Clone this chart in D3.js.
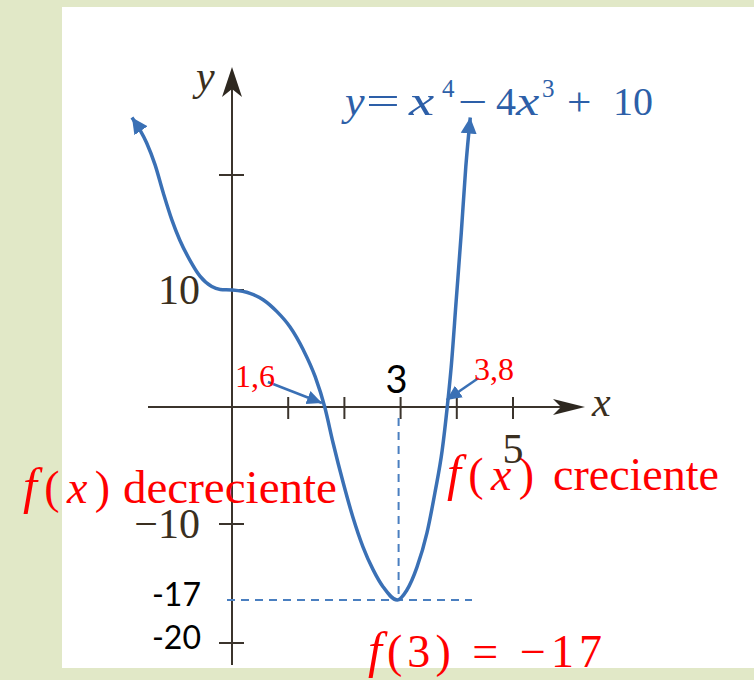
<html>
    <head>
        <title>f(x) = x^4 - 4x^3 + 10</title>
        <script type="text/javascript" src="https://cdn.jsdelivr.net/npm/d3@7"></script>
        <style>
            body{
                margin: 0;
                background: #e1e8c7;
            }
            .axis-line{
                stroke: #3b342c;
                stroke-width: 2px;
                fill: none;
            }
            .book{
                font-family: "Liberation Serif", serif;
                fill: #3a2f20;
            }
            .sans{
                font-family: Lato, "Open Sans", sans-serif;
                fill: black;
            }
            .red{
                font-family: "Liberation Serif", serif;
                fill: #ff0000;
            }
            .eq{
                font-family: "Liberation Serif", serif;
                fill: #2d5fa8;
            }
            #curve{
                stroke: #3a70b5;
                stroke-width: 3.5px;
                fill: none;
            }
            .guide{
                stroke: #4a7fc0;
                stroke-width: 2px;
                stroke-dasharray: 8 6;
                fill: none;
            }
        </style>
    </head>
    <body>
        <script type="text/javascript">
            // data
            let curveX = [-1.78, -1.52, -1.37, -1.22, -1.07, -0.93, -0.75, -0.57, -0.36, -0.21, 0,
                          0.32, 0.56, 0.80, 1.03, 1.27, 1.48, 1.65,
                          1.80, 1.98, 2.15, 2.33, 2.51, 2.69, 2.94, 3.11, 3.29, 3.47, 3.61, 3.74, 3.83,
                          3.90, 3.99, 4.08, 4.16, 4.24]
            let curveY = [25.0, 22.8, 20.9, 18.4, 16.1, 14.35, 12.6, 11.2, 10.3, 10.05, 10,
                          9.72, 9.15, 8.15, 6.86, 4.87, 2.59, 0,
                          -3.1, -6.5, -9.4, -12.1, -14.2, -15.8, -17, -16.1, -14.0, -10.8, -7.35, -3.7, 0,
                          3.4, 9.15, 15.0, 20.7, 25.0]
            let xTicks = [1, 2, 3, 4, 5]
            let yTicks = [20, 10, -10, -20]
            let bookYLabels = [10, -10]
            let bookYText = ["10", "\u221210"]
            let sansYLabels = [-17, -20]
            let sansYText = ["-17", "-20"]
            let roots = [1.6, 3.8]
            let rootText = ["1,6", "3,8"]
            let minX = 3
            let minY = -17

            let w = 754
            let h = 680
            let svg = d3.select("body")
                        .append("svg")
                        .attr("width", w)
                        .attr("height", h)
                        .style("display", "block")

            // white panel
            svg.append("rect")
                .attr("x", 62).attr("y", 7)
                .attr("width", w - 62).attr("height", 661)
                .attr("fill", "white")

            let xScale = d3.scaleLinear()
                            .domain([0, 5])
                            .range([232, 513])
            let yScale = d3.scaleLinear()
                            .domain([-20, -17, -10, 0, 10, 20])
                            .range([643, 600, 524, 407, 290, 175])

            let defs = svg.append("defs")
            function marker(id, len, half, color){
                defs.append("marker")
                    .attr("id", id)
                    .attr("markerUnits", "userSpaceOnUse")
                    .attr("markerWidth", len + 2)
                    .attr("markerHeight", half * 2 + 2)
                    .attr("viewBox", `0 ${-half - 1} ${len + 2} ${half * 2 + 2}`)
                    .attr("refX", len)
                    .attr("refY", 0)
                    .attr("orient", "auto-start-reverse")
                    .append("path")
                    .attr("d", `M0,${-half}L${len},0L0,${half}Z`)
                    .attr("fill", color)
            }
            marker("headCurve", 16, 8, "#3a70b5")
            marker("headCall", 15, 7, "#3a70b5")

            // axes
            let x0 = xScale(0)
            let y0 = yScale(0)
            let xLeft = 148, xRight = 585
            let yTop = 67, yBottom = 665
            svg.append("line").attr("class", "axis-line")
                .attr("x1", xLeft).attr("x2", xRight - 20)
                .attr("y1", y0).attr("y2", y0)
            svg.append("line").attr("class", "axis-line")
                .attr("x1", x0).attr("x2", x0)
                .attr("y1", yTop + 20).attr("y2", yBottom)
            // dart arrow heads
            svg.append("path")
                .attr("d", `M${xRight},${y0}L${xRight - 32},${y0 - 8}L${xRight - 24},${y0}L${xRight - 32},${y0 + 8}Z`)
                .attr("fill", "#2e2820")
            svg.append("path")
                .attr("d", `M${x0},${yTop}L${x0 - 10},${yTop + 30}L${x0},${yTop + 22}L${x0 + 10},${yTop + 30}Z`)
                .attr("fill", "#2e2820")

            // ticks
            svg.selectAll(".xtick")
                .data(xTicks)
                .enter()
                .append("line")
                .attr("class", "axis-line xtick")
                .attr("x1", d => xScale(d)).attr("x2", d => xScale(d))
                .attr("y1", y0 - 10).attr("y2", y0 + 12)
            svg.selectAll(".ytick")
                .data(yTicks)
                .enter()
                .append("line")
                .attr("class", "axis-line ytick")
                .attr("x1", x0 - 13).attr("x2", x0 + 12)
                .attr("y1", d => yScale(d)).attr("y2", d => yScale(d))

            // axis labels
            svg.append("text").attr("class", "book")
                .attr("x", 196).attr("y", 90)
                .attr("font-size", 42).attr("font-style", "italic")
                .text("y")
            svg.append("text").attr("class", "book")
                .attr("x", 592).attr("y", 416)
                .attr("font-size", 42).attr("font-style", "italic")
                .text("x")
            svg.append("text").attr("class", "book")
                .attr("x", xScale(5)).attr("y", y0 + 56)
                .attr("font-size", 42).attr("text-anchor", "middle")
                .text("5")
            svg.selectAll(".ylab")
                .data(bookYLabels)
                .enter()
                .append("text")
                .attr("class", "book ylab")
                .attr("x", 200)
                .attr("y", d => yScale(d) + 14)
                .attr("font-size", 42)
                .attr("text-anchor", "end")
                .text((d, i) => bookYText[i])
            svg.selectAll(".slab")
                .data(sansYLabels)
                .enter()
                .append("text")
                .attr("class", "sans slab")
                .attr("x", 201)
                .attr("y", d => yScale(d) + 6)
                .attr("font-size", 32)
                .attr("text-anchor", "end")
                .text((d, i) => sansYText[i])
            svg.append("text").attr("class", "sans")
                .attr("x", xScale(minX) - 4).attr("y", y0 - 14)
                .attr("font-size", 38).attr("text-anchor", "middle")
                .text("3")

            // equation, glyph by glyph so the wide textbook spacing holds
            let eqBase = 115
            let parts = [
                [345, "y", "italic", 0, 42, 1.05], [366, "=", "normal", 0, 40, 1.5], [409, "x", "italic", 0, 42, 1.35],
                [442, "4", "normal", -18, 25, 1], [458, "\u2212", "normal", 0, 40, 1.3], [496, "4", "normal", 0, 40, 1],
                [516, "x", "italic", 0, 42, 1.25], [542, "3", "normal", -18, 25, 1], [567, "+", "normal", 0, 40, 1.08],
                [613, "10", "normal", 0, 40, 1]
            ]
            parts.forEach(p => {
                svg.append("text").attr("class", "eq")
                    .attr("transform", `translate(${p[0]},${eqBase + p[3]}) scale(${p[5]},1)`)
                    .attr("font-style", p[2])
                    .attr("font-size", p[4])
                    .text(p[1])
            })

            // dashed guides to the minimum
            svg.append("line").attr("class", "guide")
                .attr("x1", xScale(minX) - 2).attr("x2", xScale(minX) - 2)
                .attr("y1", y0 + 11).attr("y2", yScale(minY))
            svg.append("line").attr("class", "guide")
                .attr("x1", x0 - 5).attr("x2", 472)
                .attr("y1", yScale(minY)).attr("y2", yScale(minY))

            // curve
            let line = d3.line()
                            .x((d, i) => xScale(curveX[i]))
                            .y((d, i) => yScale(curveY[i]))
                            .curve(d3.curveMonotoneX)
            svg.append("path")
                .datum(curveX)
                .attr("id", "curve")
                .attr("d", line)
                .attr("marker-start", "url(#headCurve)")
                .attr("marker-end", "url(#headCurve)")

            // root callouts
            let callDx = [-54, 32]
            let callDy = [-21, -22]
            let textX = [235, 474]
            let textY = [387, 380]
            roots.forEach((r, i) => {
                let tx = xScale(r) + (i == 0 ? 0 : 1)
                let ty = y0 - 4 - (i == 1 ? 3 : 0)
                svg.append("line")
                    .attr("x1", tx + callDx[i]).attr("y1", ty + callDy[i])
                    .attr("x2", tx).attr("y2", ty)
                    .attr("stroke", "#3a70b5")
                    .attr("stroke-width", 2.5)
                    .attr("marker-end", "url(#headCall)")
                svg.append("text").attr("class", "red")
                    .attr("x", textX[i]).attr("y", textY[i])
                    .attr("font-size", 32)
                    .text(rootText[i])
            })

            // red captions
            function fx(x, y, arg, len){
                let t = svg.append("text").attr("class", "red")
                            .attr("x", x).attr("y", y)
                            .attr("font-size", 46)
                            .attr("textLength", len)
                            .attr("lengthAdjust", "spacing")
                t.append("tspan").attr("font-style", "italic").attr("font-size", 50).text("f")
                t.append("tspan").text("(")
                t.append("tspan").attr("font-style", isNaN(arg) ? "italic" : "normal").text(arg)
                t.append("tspan").text(")")
                return t
            }
            fx(23, 503, "x", 87)
            svg.append("text").attr("class", "red")
                .attr("x", 123).attr("y", 503)
                .attr("font-size", 47)
                .text("decreciente")
            fx(447, 490, "x", 87)
            svg.append("text").attr("class", "red")
                .attr("x", 553).attr("y", 490)
                .attr("font-size", 46)
                .text("creciente")
            let f3 = fx(368, 667, "3", 234)
            f3.append("tspan").text(" = \u221217")
        </script>
    </body>
</html>
